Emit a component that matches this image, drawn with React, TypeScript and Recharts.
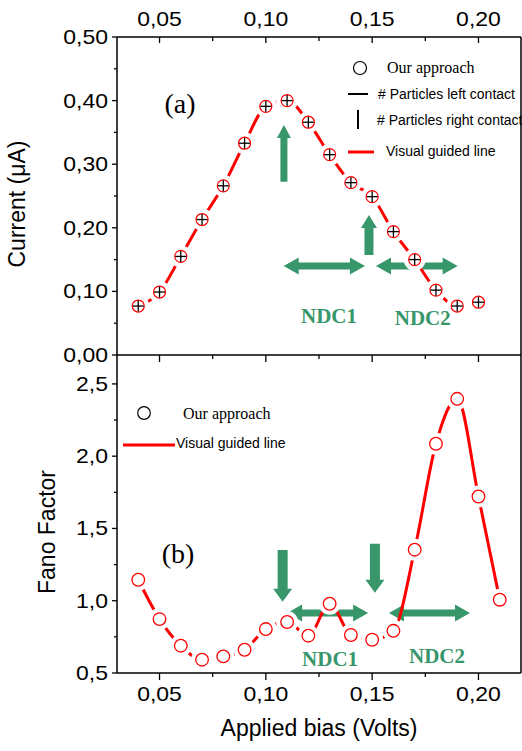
import React from 'react';
import { LineChart, Line, XAxis, YAxis, ReferenceLine, ReferenceDot, Legend } from 'recharts';

// ---------- data ----------
const currentBias = [0.04, 0.05, 0.06, 0.07, 0.08, 0.09, 0.1, 0.11, 0.12, 0.13, 0.14, 0.15, 0.16, 0.17, 0.18, 0.19, 0.2];
const currentValues = [0.077, 0.099, 0.155, 0.213, 0.266, 0.333, 0.391, 0.4, 0.366, 0.315, 0.271, 0.249, 0.194, 0.15, 0.102, 0.077, 0.083];

const fanoBias = [0.04, 0.05, 0.06, 0.07, 0.08, 0.09, 0.1, 0.11, 0.12, 0.13, 0.14, 0.15, 0.16, 0.17, 0.18, 0.19, 0.2, 0.21];
const fanoValues = [1.145, 0.873, 0.689, 0.592, 0.615, 0.661, 0.804, 0.853, 0.758, 0.979, 0.763, 0.73, 0.792, 1.353, 2.086, 2.397, 1.721, 1.007];

const xDomain = [0.03, 0.22];
const xTicks = [0.05, 0.075, 0.1, 0.125, 0.15, 0.175, 0.2];
const currentDomain = [0, 0.5];
const currentTicks = [0, 0.05, 0.1, 0.15, 0.2, 0.25, 0.3, 0.35, 0.4, 0.45, 0.5];
const fanoDomain = [0.5, 2.7];
const fanoTicks = [0.5, 0.75, 1, 1.25, 1.5, 1.75, 2, 2.25, 2.5];

// annotation anchors (data coordinates): [x1, y1, x2, y2] tail -> tip
const currentUpArrows = [
  [0.1085, 0.2725, 0.1085, 0.3616],
  [0.1485, 0.1572, 0.1485, 0.2201],
];
const currentRangeArrows = [
  [0.1084, 0.14, 0.1466, 0.14],
  [0.1518, 0.14, 0.1902, 0.14],
];
const fanoDownArrows = [
  [0.1079, 1.351, 0.1079, 0.993],
  [0.1513, 1.395, 0.1513, 1.056],
];
const fanoRangeArrows = [
  [0.11, 0.915, 0.1481, 0.915],
  [0.1579, 0.915, 0.196, 0.915],
];
const currentTexts = [
  { x: 0.0596, y: 0.3915, text: '(a)', kind: 'panel' },
  { x: 0.1297, y: 0.0618, text: 'NDC1', kind: 'ndc' },
  { x: 0.1738, y: 0.058, text: 'NDC2', kind: 'ndc' },
];
const fanoTexts = [
  { x: 0.0587, y: 1.307, text: '(b)', kind: 'panel' },
  { x: 0.1302, y: 0.599, text: 'NDC1', kind: 'ndc' },
  { x: 0.1805, y: 0.615, text: 'NDC2', kind: 'ndc' },
];

// ---------- styles ----------
const GREEN = '#37966a';
const RED = '#ff0000';
const SANS = '"Liberation Sans", Arial, sans-serif';
const SERIF = '"Liberation Serif", "Times New Roman", serif';

const isMul = (v: number, step: number) => Math.abs(v / step - Math.round(v / step)) < 1e-6;
const comma = (v: number, d: number) => v.toFixed(d).replace('.', ',');

function tickText(x: number, y: number, s: string, anchor: string) {
  return (
    <text
      x={0}
      y={0}
      transform={`translate(${x},${y}) scale(1.15,1)`}
      textAnchor={anchor}
      fontFamily={SANS}
      fontSize={20}
      fill="#000"
    >
      {s}
    </text>
  );
}

const XTickTop = (p: any) => {
  const { x, y, payload } = p;
  const major = isMul(payload.value, 0.05);
  return (
    <g>
      <line x1={x} x2={x} y1={y} y2={y + (major ? 6 : 4)} stroke="#000" strokeWidth={1.3} />
      {major ? tickText(x, y - 11, comma(payload.value, 2), 'middle') : null}
    </g>
  );
};

const XTickBare = (p: any) => {
  const { x, y, payload } = p;
  const major = isMul(payload.value, 0.05);
  return (
    <g>
      <line x1={x} x2={x} y1={y} y2={y + (major ? 7 : 4)} stroke="#000" strokeWidth={1.3} />
    </g>
  );
};

const XTickBottom = (p: any) => {
  const { x, y, payload } = p;
  const major = isMul(payload.value, 0.05);
  return (
    <g>
      <line x1={x} x2={x} y1={y} y2={y + (major ? 7 : 4)} stroke="#000" strokeWidth={1.3} />
      {major ? tickText(x, y + 28, comma(payload.value, 2), 'middle') : null}
    </g>
  );
};

const YTickCurrent = (p: any) => {
  const { x, y, payload } = p;
  const major = isMul(payload.value, 0.1);
  return (
    <g>
      <line x1={x - (major ? 5 : 3)} x2={x} y1={y} y2={y} stroke="#000" strokeWidth={1.3} />
      {major ? tickText(x - 9, y + 7, comma(payload.value, 2), 'end') : null}
    </g>
  );
};

const YTickFano = (p: any) => {
  const { x, y, payload } = p;
  const major = isMul(payload.value, 0.5);
  return (
    <g>
      <line x1={x - (major ? 5 : 3)} x2={x} y1={y} y2={y} stroke="#000" strokeWidth={1.3} />
      {major ? tickText(x - 9, y + 7, comma(payload.value, 1), 'end') : null}
    </g>
  );
};

function arrowPath(x1: number, y1: number, x2: number, y2: number, w: number, hw: number, hl: number, both: boolean) {
  const dx = x2 - x1;
  const dy = y2 - y1;
  const L = Math.hypot(dx, dy) || 1;
  const ux = dx / L;
  const uy = dy / L;
  const nx = -uy;
  const ny = ux;
  const P = (s: number, t: number) => `${(x1 + ux * s + nx * t).toFixed(2)},${(y1 + uy * s + ny * t).toFixed(2)}`;
  let pts: string[];
  if (both) {
    pts = [P(0, 0), P(hl, hw / 2), P(hl, w / 2), P(L - hl, w / 2), P(L - hl, hw / 2), P(L, 0), P(L - hl, -hw / 2), P(L - hl, -w / 2), P(hl, -w / 2), P(hl, -hw / 2)];
  } else {
    pts = [P(0, w / 2), P(L - hl, w / 2), P(L - hl, hw / 2), P(L, 0), P(L - hl, -hw / 2), P(L - hl, -w / 2), P(0, -w / 2)];
  }
  return 'M' + pts.join('L') + 'Z';
}

const arrowShape = (w: number, hw: number, hl: number, both: boolean) => (p: any) => (
  <path d={arrowPath(p.x1, p.y1, p.x2, p.y2, w, hw, hl, both)} fill={GREEN} stroke="none" />
);

const textShape = (text: string, kind: string) => (p: any) => {
  if (kind === 'panel') {
    return (
      <text x={p.cx} y={p.cy + 7} textAnchor="middle" fontFamily={SERIF} fontSize={28} fill="#000">
        {text}
      </text>
    );
  }
  return (
    <text x={p.cx} y={p.cy + 7} textAnchor="middle" fontFamily={SERIF} fontWeight="bold" fontSize={21} fill={GREEN}>
      {text}
    </text>
  );
};

// white "gap" disc drawn by the guide line itself, above its own curve
const gapDot = (r: number) => (p: any) => <circle key={`g${p.index}`} cx={p.cx} cy={p.cy} r={r} fill="#fff" stroke="none" />;

const crossDot = (p: any) => (
  <g key={`c${p.index}`}>
    <circle cx={p.cx} cy={p.cy} r={6} fill="#fff" stroke={RED} strokeWidth={1.2} />
    <line x1={p.cx - 5.5} x2={p.cx + 5.5} y1={p.cy} y2={p.cy} stroke="#000" strokeWidth={1.3} />
    <line x1={p.cx} x2={p.cx} y1={p.cy - 5.5} y2={p.cy + 5.5} stroke="#000" strokeWidth={1.3} />
  </g>
);

const ringDot = (p: any) => (
  <circle key={`r${p.index}`} cx={p.cx} cy={p.cy} r={6.3} fill="#fff" stroke={RED} strokeWidth={1.3} />
);

const CurrentTitle = () => (
  <text transform="translate(25,204) rotate(-90)" textAnchor="middle" fontFamily={SANS} fontSize={23} fill="#000">
    Current (μA)
  </text>
);
const FanoTitle = () => (
  <text transform="translate(55,192) rotate(-90)" textAnchor="middle" fontFamily={SANS} fontSize={23} fill="#000">
    Fano Factor
  </text>
);
const BiasTitle = () => (
  <text x={319} y={396} textAnchor="middle" fontFamily={SANS} fontSize={23} fill="#000">
    Applied bias (Volts)
  </text>
);

const TopLegend = () => (
  <svg width={522} height={366} style={{ position: 'absolute', left: 0, top: 0, overflow: 'visible' }}>
    <circle cx={360} cy={68} r={6.5} fill="none" stroke="#000" strokeWidth={1.2} />
    <text x={387} y={73} fontFamily={SERIF} fontSize={16} fill="#000">Our approach</text>
    <line x1={348} x2={368} y1={94} y2={94} stroke="#000" strokeWidth={2} />
    <text x={378} y={99} fontFamily={SANS} fontSize={14} fill="#000"># Particles left contact</text>
    <line x1={358} x2={358} y1={110} y2={129} stroke="#000" strokeWidth={2} />
    <text x={377} y={125} fontFamily={SANS} fontSize={14} fill="#000"># Particles right contact</text>
    <line x1={348} x2={374} y1={152} y2={152} stroke={RED} strokeWidth={3} />
    <text x={386} y={156} fontFamily={SANS} fontSize={14} fill="#000">Visual guided line</text>
  </svg>
);

const BottomLegend = () => (
  <svg width={522} height={411} style={{ position: 'absolute', left: 0, top: 0, overflow: 'visible' }}>
    <circle cx={144} cy={73} r={6.3} fill="none" stroke="#000" strokeWidth={1.2} />
    <text x={183} y={79} fontFamily={SERIF} fontSize={16} fill="#000">Our approach</text>
    <line x1={123} x2={175} y1={105} y2={105} stroke={RED} strokeWidth={3} />
    <text x={176} y={108} fontFamily={SANS} fontSize={14} fill="#000">Visual guided line</text>
  </svg>
);

const axisLine = { stroke: '#000', strokeWidth: 1.5 };

export default function App() {
  const topData = currentBias.map((v, i) => ({ v, current: currentValues[i] }));
  const botData = fanoBias.map((v, i) => ({ v, fano: fanoValues[i] }));

  return (
    <div style={{ position: 'absolute', left: 0, top: 0, width: 522, height: 751, background: '#fff', overflow: 'hidden' }}>
      <div style={{ position: 'absolute', left: 0, top: 0 }}>
        <LineChart width={522} height={366} data={topData} margin={{ top: 36, right: 1, bottom: 10, left: 0 }}>
          <XAxis xAxisId="b" dataKey="v" type="number" domain={xDomain} ticks={xTicks} interval={0} allowDataOverflow orientation="bottom" height={1} tickSize={0} tickMargin={0} tick={XTickBare} tickLine={false} axisLine={axisLine} />
          <XAxis xAxisId="t" dataKey="v" type="number" domain={xDomain} ticks={xTicks} interval={0} allowDataOverflow orientation="top" height={1} tickSize={0} tickMargin={0} tick={XTickTop} tickLine={false} axisLine={axisLine} />
          <YAxis yAxisId="l" type="number" domain={currentDomain} ticks={currentTicks} interval={0} allowDataOverflow width={117} tickSize={0} tickMargin={0} tick={YTickCurrent} tickLine={false} axisLine={axisLine} label={{ value: 'Current (μA)', content: CurrentTitle }} />
          <ReferenceLine xAxisId="b" yAxisId="l" x={0.22} stroke="#000" strokeWidth={1.5} ifOverflow="visible" />
          {currentUpArrows.map((a, i) => (
            <ReferenceLine key={`ua${i}`} xAxisId="b" yAxisId="l" segment={[{ x: a[0], y: a[1] }, { x: a[2], y: a[3] }]} ifOverflow="visible" shape={arrowShape(i === 0 ? 7 : 9, i === 0 ? 14 : 16, 13, false)} />
          ))}
          {currentRangeArrows.map((a, i) => (
            <ReferenceLine key={`ra${i}`} xAxisId="b" yAxisId="l" segment={[{ x: a[0], y: a[1] }, { x: a[2], y: a[3] }]} ifOverflow="visible" shape={arrowShape(7, 17, 15, true)} />
          ))}
          {currentTexts.map((t, i) => (
            <ReferenceDot key={`ct${i}`} xAxisId="b" yAxisId="l" x={t.x} y={t.y} r={0} ifOverflow="visible" shape={textShape(t.text, t.kind)} />
          ))}
          <Line xAxisId="b" yAxisId="l" dataKey="current" type="monotone" stroke={RED} strokeWidth={3} dot={gapDot(11)} activeDot={false} isAnimationActive={false} />
          <Line xAxisId="b" yAxisId="l" dataKey="current" type="monotone" stroke="none" dot={crossDot} activeDot={false} isAnimationActive={false} legendType="none" />
          <Legend layout="vertical" align="center" verticalAlign="middle" content={TopLegend} wrapperStyle={{ left: 0, top: 0, width: 522, height: 366, pointerEvents: 'none' }} />
        </LineChart>
      </div>
      <div style={{ position: 'absolute', left: 0, top: 340 }}>
        <LineChart width={522} height={411} data={botData} margin={{ top: 15, right: 1, bottom: 77, left: 0 }}>
          <XAxis xAxisId="b" dataKey="v" type="number" domain={xDomain} ticks={xTicks} interval={0} allowDataOverflow orientation="bottom" height={1} tickSize={0} tickMargin={0} tick={XTickBottom} tickLine={false} axisLine={axisLine} label={{ value: 'Applied bias (Volts)', content: BiasTitle }} />
          <YAxis yAxisId="l" type="number" domain={fanoDomain} ticks={fanoTicks} interval={0} allowDataOverflow width={117} tickSize={0} tickMargin={0} tick={YTickFano} tickLine={false} axisLine={axisLine} label={{ value: 'Fano Factor', content: FanoTitle }} />
          <ReferenceLine xAxisId="b" yAxisId="l" x={0.22} stroke="#000" strokeWidth={1.5} ifOverflow="visible" />
          {fanoDownArrows.map((a, i) => (
            <ReferenceLine key={`da${i}`} xAxisId="b" yAxisId="l" segment={[{ x: a[0], y: a[1] }, { x: a[2], y: a[3] }]} ifOverflow="visible" shape={arrowShape(10, 19, 13, false)} />
          ))}
          {fanoRangeArrows.map((a, i) => (
            <ReferenceLine key={`fr${i}`} xAxisId="b" yAxisId="l" segment={[{ x: a[0], y: a[1] }, { x: a[2], y: a[3] }]} ifOverflow="visible" shape={arrowShape(7, 17, 15, true)} />
          ))}
          {fanoTexts.map((t, i) => (
            <ReferenceDot key={`ft${i}`} xAxisId="b" yAxisId="l" x={t.x} y={t.y} r={0} ifOverflow="visible" shape={textShape(t.text, t.kind)} />
          ))}
          <Line xAxisId="b" yAxisId="l" dataKey="fano" type="monotone" stroke={RED} strokeWidth={3} dot={gapDot(11)} activeDot={false} isAnimationActive={false} />
          <Line xAxisId="b" yAxisId="l" dataKey="fano" type="monotone" stroke="none" dot={ringDot} activeDot={false} isAnimationActive={false} legendType="none" />
          <Legend layout="vertical" align="center" verticalAlign="middle" content={BottomLegend} wrapperStyle={{ left: 0, top: 0, width: 522, height: 411, pointerEvents: 'none' }} />
        </LineChart>
      </div>
    </div>
  );
}
